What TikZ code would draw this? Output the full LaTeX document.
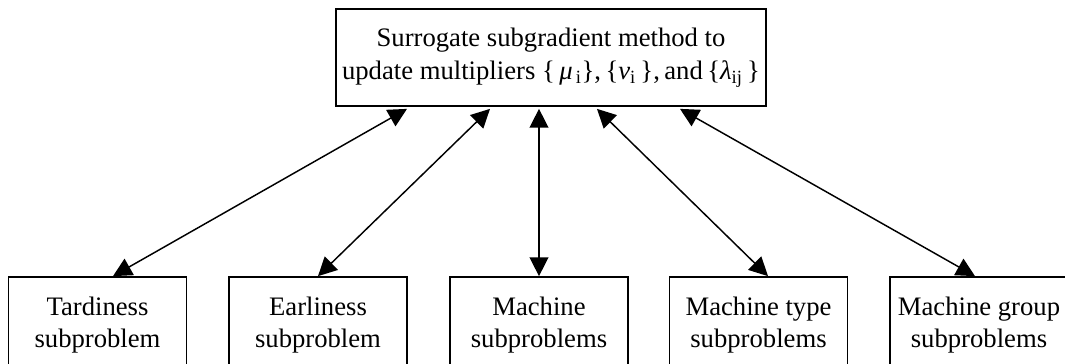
\documentclass[tikz,border=0pt]{standalone}
\usepackage{fontspec}
\setmainfont{Liberation Serif}
\usetikzlibrary{arrows.meta,calc}
\tikzset{
  box/.style={draw=black, line width=1.3pt, fill=white, align=center,
    font=\fontsize{20pt}{24.5pt}\selectfont, inner sep=0pt},
  topbox/.style={box, minimum width=322.5pt, minimum height=72.75pt},
  subbox/.style={box, minimum width=133.5pt, minimum height=72pt},
  link/.style={line width=1.1pt, {Triangle[length=14pt,width=14pt]}-{Triangle[length=14pt,width=14pt]}}
}
\begin{document}
\begin{tikzpicture}[x=0.75pt,y=-0.75pt]
\clip (0,0) rectangle (1065,364);
\fill[white] (0,0) rectangle (1065,364);
\node[topbox] (top) at (551,57.5) {Surrogate subgradient method to\\update multipliers \{\,{\itshape μ}\textsubscript{\,i}\},\,\{{\itshape ν}\textsubscript{i}\,\},\,and\,\{{\itshape λ}\textsubscript{ij}\,\}};
\node[subbox] (s1) at (97.5,325) {Tardiness\\subproblem};
\node[subbox] (s2) at (318,325) {Earliness\\subproblem};
\node[subbox] (s3) at (539,325) {Machine\\subproblems};
\node[subbox] (s4) at (758.5,325) {Machine type\\subproblems};
\node[subbox] (s5) at (979,325) {Machine group\\subproblems};
\coordinate (t1) at ($(top.south)+(-144,2)$);
\coordinate (t2) at ($(top.south)+(-61,2)$);
\coordinate (t3) at ($(top.south)+(-12,2)$);
\coordinate (t4) at ($(top.south)+(46,2)$);
\coordinate (t5) at ($(top.south)+(129,2)$);
\coordinate (b1) at ($(s1.north)+(15.5,0)$);
\coordinate (b2) at ($(s2.north)+(0,0)$);
\coordinate (b3) at ($(s3.north)+(0,0)$);
\coordinate (b4) at ($(s4.north)+(9.5,0)$);
\coordinate (b5) at ($(s5.north)+(-4,0)$);
\draw[link] (b1) -- (t1);
\draw[link] (b2) -- (t2);
\draw[link] (b3) -- (t3);
\draw[link] (b4) -- (t4);
\draw[link] (b5) -- (t5);
\end{tikzpicture}
\end{document}
